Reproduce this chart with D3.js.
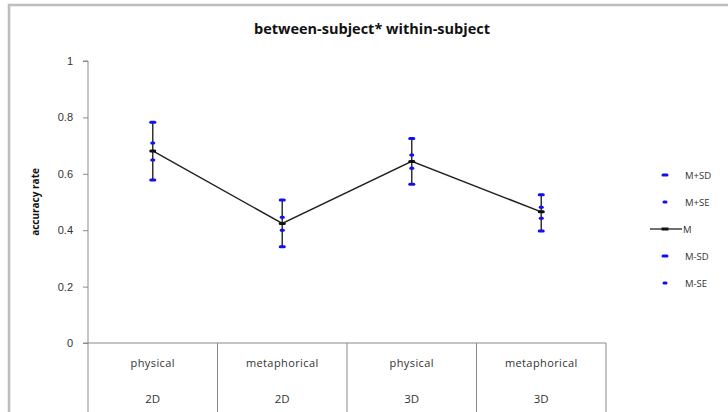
<!DOCTYPE html>
<html>
<head>
<meta charset="utf-8">
<script src="https://cdn.jsdelivr.net/npm/d3@7"></script>
<style>
  body { margin: 0; background: #fff; }
  svg { display: block; font-family: "Open Sans", "Liberation Sans", Arial, sans-serif; }
</style>
</head>
<body>
<div id="graph"></div>
<script>
// values
const CONDITIONS = ['physical', 'metaphorical', 'physical', 'metaphorical'];
const GROUPS = ['2D', '2D', '3D', '3D'];
const MEAN = [0.681, 0.424, 0.644, 0.465];
const PLUS_SD = [0.783, 0.507, 0.725, 0.526];
const PLUS_SE = [0.709, 0.446, 0.667, 0.481];
const MINUS_SE = [0.649, 0.400, 0.620, 0.442];
const MINUS_SD = [0.578, 0.341, 0.563, 0.397];
const Y_TICKS = [0, 0.2, 0.4, 0.6, 0.8, 1];
const LEGEND = ['M+SD', 'M+SE', 'M', 'M-SD', 'M-SE'];

const WIDTH = 728;
const HEIGHT = 412;
const BLUE = '#1010f0';
const margin = {left: 88, right: 606, top: 61, bottom: 343};

const svg = d3.select('#graph')
  .append('svg')
    .attr('width', WIDTH)
    .attr('height', HEIGHT);

// outer chart frame, cut off by the window on right and bottom
svg.append('path')
  .attr('d', `M9,${HEIGHT + 5} V5 H${WIDTH + 5}`)
  .attr('fill', 'none')
  .attr('stroke', '#bdbdbd')
  .attr('stroke-width', 2.5);

svg.append('text')
  .attr('x', 372)
  .attr('y', 34)
  .attr('text-anchor', 'middle')
  .attr('font-size', 14.5)
  .attr('font-weight', 'bold')
  .attr('fill', '#111')
  .text('between-subject* within-subject');

const idx = d3.range(MEAN.length);
const x = d3.scaleBand()
  .domain(idx)
  .range([margin.left, margin.right]);
const cx = i => x(i) + x.bandwidth() / 2;

const y = d3.scaleLinear()
  .domain([0, 1])
  .range([margin.bottom, margin.top]);

// y axis
const yAxis = svg.append('g')
  .attr('transform', `translate(${margin.left},0)`)
  .call(d3.axisLeft(y).tickValues(Y_TICKS).tickSize(5).tickPadding(10)
    .tickFormat(d => d3.format('')(+d.toFixed(1))));
yAxis.select('.domain')
  .attr('d', `M-5,${margin.top}H0V${HEIGHT}`)
  .attr('stroke', '#8a8a8a');
yAxis.selectAll('.tick line').attr('stroke', '#8a8a8a');
yAxis.selectAll('.tick text')
  .attr('font-size', 11)
  .attr('fill', '#333');

svg.append('text')
  .attr('transform', `translate(39,${(margin.top + margin.bottom) / 2}) rotate(-90)`)
  .attr('text-anchor', 'middle')
  .attr('font-size', 10)
  .attr('font-weight', 'bold')
  .attr('fill', '#111')
  .text('accuracy rate');

// category table under the plot
const xAxis = svg.append('g');
xAxis.append('line')
  .attr('x1', margin.left - 5).attr('x2', margin.right)
  .attr('y1', margin.bottom).attr('y2', margin.bottom)
  .attr('stroke', '#8a8a8a');
xAxis.selectAll('line.div')
  .data(idx)
  .join('line')
  .attr('class', 'div')
  .attr('x1', i => x(i) + x.bandwidth()).attr('x2', i => x(i) + x.bandwidth())
  .attr('y1', margin.bottom).attr('y2', HEIGHT)
  .attr('stroke', '#8a8a8a');
xAxis.selectAll('text.cond')
  .data(idx)
  .join('text')
  .attr('class', 'cond')
  .attr('x', cx)
  .attr('y', 367)
  .attr('text-anchor', 'middle')
  .attr('font-size', 11)
  .attr('letter-spacing', 0.4)
  .attr('fill', '#333')
  .text(i => CONDITIONS[i]);
xAxis.selectAll('text.grp')
  .data(idx)
  .join('text')
  .attr('class', 'grp')
  .attr('x', cx)
  .attr('y', 403)
  .attr('text-anchor', 'middle')
  .attr('font-size', 11.5)
  .attr('fill', '#333')
  .text(i => GROUPS[i]);

// error bars
svg.append('g')
  .selectAll('line')
  .data(idx)
  .join('line')
  .attr('x1', cx).attr('x2', cx)
  .attr('y1', i => y(MINUS_SD[i]))
  .attr('y2', i => y(PLUS_SD[i]))
  .attr('stroke', '#333')
  .attr('stroke-width', 1.5);

// mean line
svg.append('path')
  .datum(idx)
  .attr('fill', 'none')
  .attr('stroke', '#222')
  .attr('stroke-width', 1.5)
  .attr('d', d3.line().x(cx).y(i => y(MEAN[i])));

function marks(values, w, color) {
    svg.append('g')
      .selectAll('rect')
      .data(idx)
      .join('rect')
      .attr('x', i => cx(i) - w / 2)
      .attr('y', i => y(values[i]) - 1.5)
      .attr('width', w)
      .attr('height', 3)
      .attr('rx', 1.5)
      .attr('fill', color);
}
marks(PLUS_SD, 7, BLUE);
marks(MINUS_SD, 7, BLUE);
marks(PLUS_SE, 5, BLUE);
marks(MINUS_SE, 5, BLUE);
marks(MEAN, 7, '#111');

// legend
const leg = svg.append('g')
  .selectAll('g')
  .data(LEGEND)
  .join('g')
  .attr('transform', (d, i) => `translate(665,${175 + i * 27})`);
leg.filter(d => d !== 'M')
  .append('rect')
  .attr('x', d => d.endsWith('SD') ? -3.5 : -2.5)
  .attr('y', -1.5)
  .attr('width', d => d.endsWith('SD') ? 7 : 5)
  .attr('height', 3)
  .attr('rx', 1.5)
  .attr('fill', BLUE);
leg.filter(d => d === 'M')
  .append('line')
  .attr('x1', -15).attr('x2', 17)
  .attr('stroke', '#111')
  .attr('stroke-width', 1.2);
leg.filter(d => d === 'M')
  .append('rect')
  .attr('x', -3.5).attr('y', -1.5)
  .attr('width', 7).attr('height', 3)
  .attr('fill', '#111');
leg.append('text')
  .attr('x', d => d === 'M' ? 18 : 20)
  .attr('y', 3.5)
  .attr('font-size', 9.5)
  .attr('fill', '#333')
  .text(d => d);
</script>
</body>
</html>
